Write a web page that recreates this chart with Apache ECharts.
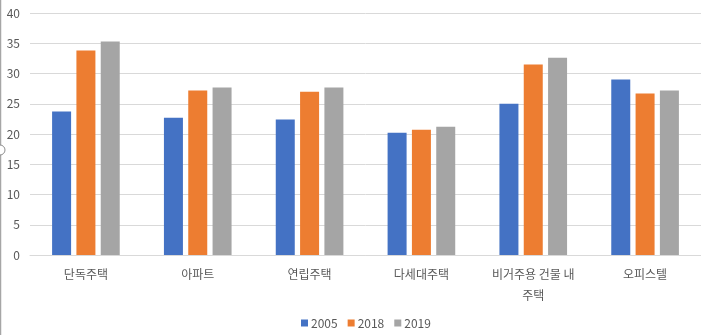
<!DOCTYPE html>
<html>
<head>
<meta charset="utf-8">
<script src="https://cdn.jsdelivr.net/npm/echarts@6/dist/echarts.min.js"></script>
<style>
  html, body { margin: 0; padding: 0; background: #fff; }
  #chart { width: 701px; height: 335px; }
</style>
</head>
<body>
<div id="chart"></div>
<script>
// Housing types and yearly values
const categories = ['단독주택', '아파트', '연립주택', '다세대주택', '비거주용 건물 내 주택', '오피스텔'];
const years = ['2005', '2018', '2019'];
const values2005 = [23.7, 22.7, 22.4, 20.2, 25.0, 29.0];
const values2018 = [33.8, 27.2, 27.0, 20.7, 31.5, 26.7];
const values2019 = [35.3, 27.7, 27.7, 21.2, 32.6, 27.2];
const yTicks = { min: 0, max: 40, interval: 5 };

const colors = ['#4472C4', '#ED7D31', '#A5A5A5'];
const seriesValues = [values2005, values2018, values2019];
const fontFamily = '"Noto Sans CJK KR", "Noto Sans", sans-serif';

// Wrap long category names onto two lines at the last space
function wrapLabel(v) {
  if (v.length > 10) {
    const i = v.lastIndexOf(' ');
    return v.slice(0, i) + '\n' + v.slice(i + 1);
  }
  return v;
}

const chart = echarts.init(document.getElementById('chart'), null, { renderer: 'canvas' });
chart.setOption({
  animation: false,
  color: colors,
  textStyle: { fontFamily: fontFamily },
  grid: { left: 30, right: 0, top: 13, bottom: 80, containLabel: false },
  legend: {
    data: years,
    bottom: 1,
    left: 296,
    itemWidth: 7,
    itemHeight: 7,
    itemGap: 10,
    icon: 'rect',
    textStyle: { color: '#595959', fontSize: 12, fontFamily: fontFamily, padding: [0, 0, 0, -2] }
  },
  xAxis: {
    type: 'category',
    data: categories,
    axisLine: { lineStyle: { color: '#d9d9d9', width: 1 } },
    axisTick: { show: false },
    axisLabel: {
      color: '#595959',
      fontSize: 12,
      margin: 9,
      lineHeight: 21,
      interval: 0,
      formatter: wrapLabel
    }
  },
  yAxis: {
    type: 'value',
    min: yTicks.min,
    max: yTicks.max,
    interval: yTicks.interval,
    axisLine: { show: false },
    axisTick: { show: false },
    axisLabel: { color: '#595959', fontSize: 12, margin: 10 },
    splitLine: { lineStyle: { color: '#d9d9d9', width: 1 } }
  },
  series: years.map((y, i) => ({
    name: y,
    type: 'bar',
    data: seriesValues[i],
    barWidth: 19,
    barGap: '28%',
    itemStyle: { color: colors[i] }
  })),
  graphic: [
    {
      type: 'line',
      shape: { x1: 0.5, y1: 0, x2: 0.5, y2: 335 },
      style: { stroke: '#a6a6a6', lineWidth: 1.5 },
      silent: true
    },
    {
      type: 'circle',
      shape: { cx: 0, cy: 150, r: 5 },
      style: { fill: '#ffffff', stroke: '#8c8c8c', lineWidth: 1 },
      silent: true
    }
  ]
});
</script>
</body>
</html>
